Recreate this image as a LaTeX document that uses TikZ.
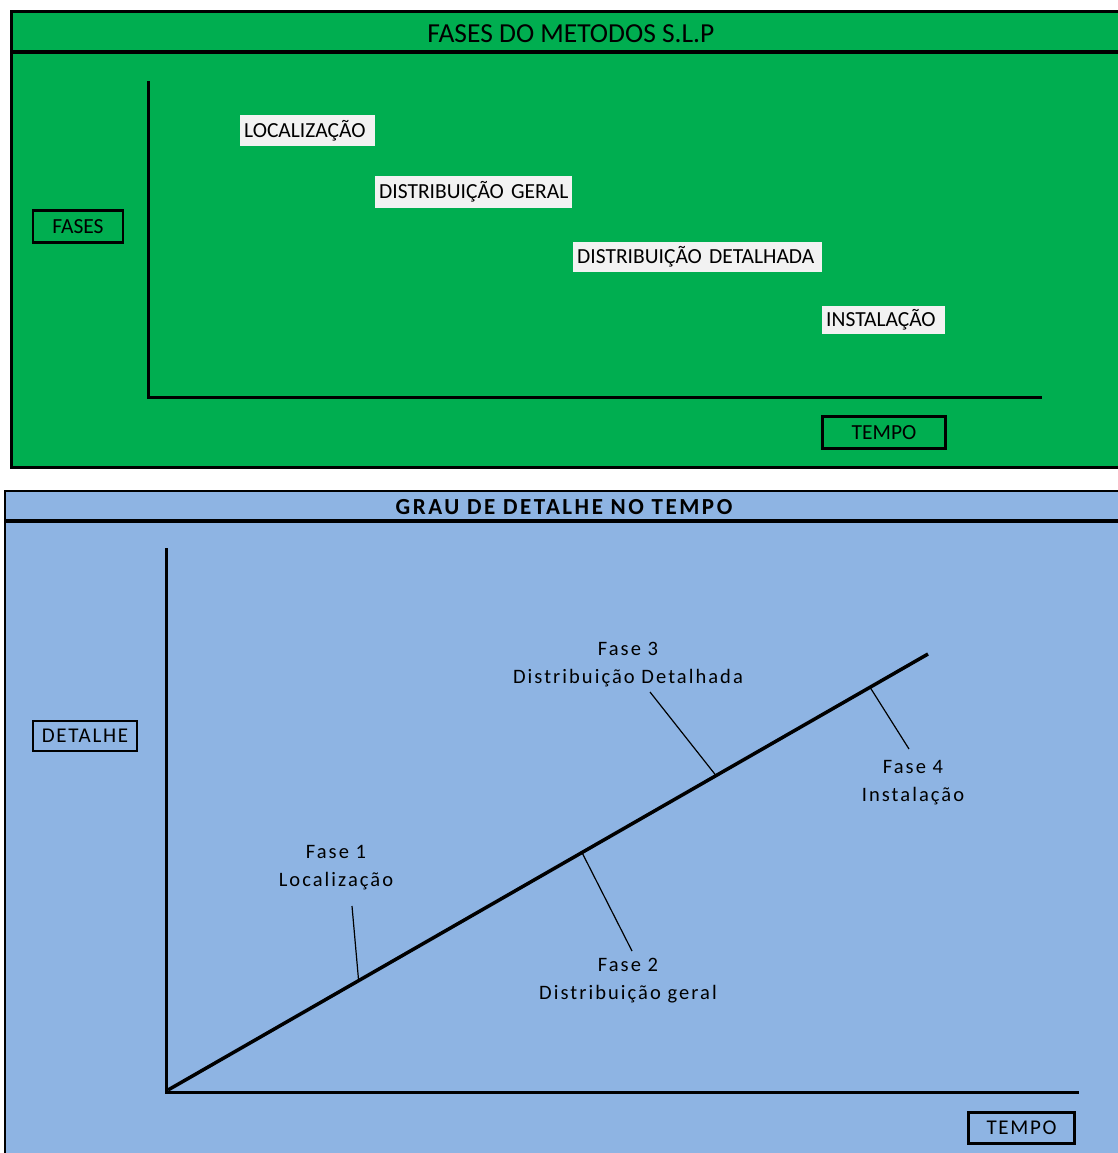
\documentclass[tikz,border=0pt]{standalone}
\usepackage{fontspec}
\usetikzlibrary{calc}
\setmainfont{Carlito}
\newfontfamily\widefont{Carlito}[LetterSpace=10]
\newfontfamily\boxfont{Carlito}[LetterSpace=8]
\newfontfamily\titlefont{Carlito}[LetterSpace=11]
\definecolor{panelgreen}{HTML}{00AE50}
\definecolor{panelblue}{HTML}{8EB4E3}
\definecolor{labelgrey}{HTML}{F2F2F2}
\tikzset{
  axis/.style={line width=3pt, line cap=rect},
  boxlabel/.style={draw=black, line width=2.6pt, inner sep=0pt, font=\fontsize{21.5}{23}\selectfont},
  boxlabelb/.style={draw=black, line width=2.6pt, inner sep=0pt, font=\boxfont\fontsize{21}{23}\selectfont},
  phase/.style={fill=labelgrey, inner sep=0pt, font=\fontsize{21.5}{23}\selectfont, anchor=west},
  fase/.style={align=center, font=\widefont\fontsize{20.5}{28}\selectfont},
  leader/.style={line width=1.2pt},
}
\begin{document}
\begin{tikzpicture}[x=1pt,y=-1pt]
\useasboundingbox (0,0) rectangle (1118,1153);
% ---------- top panel ----------
\fill[panelgreen] (11,12) rectangle (1122,467);
\draw[line width=3pt] (1122,12) -- (11,12) -- (11,467) -- (1122,467);
\draw[line width=3.5pt] (11,52) -- (1122,52);
\node (title1) at (571,34) {\fontsize{27.5}{29}\selectfont FASES DO METODOS S.L.P};
\coordinate (ytop1) at (148,83);
\coordinate (orig1) at (148,397);
\coordinate (xend1) at (1040,397);
\draw[axis] (ytop1) -- (orig1) -- (xend1);
\node[boxlabel, minimum width=90pt, minimum height=32pt] (fases) at (78,226.5) {FASES};
\node[boxlabel, minimum width=123pt, minimum height=32pt] (tempo1) at (884,432.5) {TEMPO};
\node[phase, minimum width=135pt, minimum height=30pt, text width=135pt, align=left] (loc) at (240,130.5) {\hspace{4pt}LOCALIZAÇÃO};
\node[phase, minimum width=197pt, minimum height=32pt, text width=197pt, align=left] (dg) at (375,192) {\hspace{4pt}DISTRIBUIÇÃO GERAL};
\node[phase, minimum width=249pt, minimum height=30pt, text width=249pt, align=left] (dd) at (573,257) {\hspace{4pt}DISTRIBUIÇÃO DETALHADA};
\node[phase, minimum width=123pt, minimum height=28pt, text width=123pt, align=left] (inst) at (822,320) {\hspace{4pt}INSTALAÇÃO};
% ---------- bottom panel ----------
\fill[panelblue] (5,491) rectangle (1122,1156);
\draw[line width=2pt] (1122,491) -- (5,491) -- (5,1156);
\draw[line width=3.2pt] (5,521) -- (1122,521);
\node (title2) at (564,507.5) {\titlefont\fontsize{23}{25}\selectfont\bfseries GRAU DE DETALHE NO TEMPO};
\coordinate (ytop2) at (166,549);
\coordinate (orig2) at (166,1092);
\coordinate (xend2) at (1077,1092);
\draw[axis] (ytop2) -- (orig2) -- (xend2);
\coordinate (dstart) at (168,1090);
\coordinate (dend) at (928,654);
\draw[line width=3.5pt] (dstart) -- (dend);
\node[boxlabelb, minimum width=104pt, minimum height=30pt] (detalhe) at (85,736) {DETALHE};
\node[boxlabelb, minimum width=106pt, minimum height=31pt] (tempo2) at (1021.5,1128) {TEMPO};
% phase labels and leaders
\node[fase] (f1) at (336,868) {Fase 1\\Localização};
\node[fase] (f2) at (628,981) {Fase 2\\Distribuição geral};
\node[fase] (f3) at (628,665) {Fase 3\\Distribuição Detalhada};
\node[fase] (f4) at (913,783) {Fase 4\\Instalação};
\coordinate (p1) at ($(dstart)!0.2508!(dend)$);
\coordinate (p2) at ($(dstart)!0.5447!(dend)$);
\coordinate (p3) at ($(dstart)!0.7211!(dend)$);
\coordinate (p4) at ($(dstart)!0.9237!(dend)$);
\coordinate (q1) at (352,906);
\coordinate (q2) at (632,951);
\coordinate (q3) at (650,692);
\coordinate (q4) at (909,749);
\draw[leader] (q1) -- (p1);
\draw[leader] (q2) -- (p2);
\draw[leader] (q3) -- (p3);
\draw[leader] (q4) -- (p4);
\end{tikzpicture}
\end{document}
